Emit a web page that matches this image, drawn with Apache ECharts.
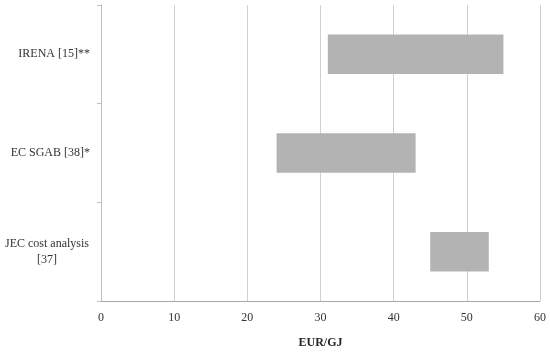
<!DOCTYPE html>
<html>
<head>
<meta charset="utf-8">
<script src="https://cdn.jsdelivr.net/npm/echarts@6/dist/echarts.min.js"></script>
<style>
  html, body { margin: 0; padding: 0; background: #fff; }
  #chart { width: 550px; height: 353px; }
</style>
</head>
<body>
<div id="chart"></div>
<script>
// top to bottom
const categories = ["IRENA [15]**", "EC SGAB [38]*", "JEC cost analysis\n[37]"];
const lowValues = [31, 24, 45];
const highValues = [55, 43, 53];
const xTicks = [0, 10, 20, 30, 40, 50, 60];

const font = "'Liberation Serif', 'DejaVu Serif', serif";

let chart = echarts.init(document.getElementById("chart"));

let rangeValues = [];
highValues.forEach((h, i) => {
    rangeValues.push(h - lowValues[i]);
});

let option = {
    animation: false,
    textStyle: { fontFamily: font },
    grid: {
        left: 101,
        right: 10,
        top: 5,
        bottom: 52,
        outerBoundsMode: "none"
    },
    xAxis: {
        type: "value",
        min: xTicks[0],
        max: xTicks[xTicks.length - 1],
        interval: 10,
        name: "EUR/GJ",
        nameLocation: "middle",
        nameGap: 36,
        nameTextStyle: {
            fontFamily: font,
            fontWeight: "bold",
            fontSize: 12,
            color: "#262626"
        },
        axisLine: {
            show: true,
            lineStyle: { color: "#a6a6a6", width: 1 }
        },
        axisTick: { show: false },
        axisLabel: {
            color: "#333",
            fontSize: 12,
            fontFamily: font,
            margin: 11
        },
        splitLine: {
            show: true,
            lineStyle: { color: "#d0d0d0", width: 1 }
        }
    },
    yAxis: {
        type: "category",
        inverse: true,
        data: categories,
        axisLine: {
            show: true,
            lineStyle: { color: "#bfbfbf", width: 1 }
        },
        axisTick: {
            show: true,
            length: 4,
            lineStyle: { color: "#bfbfbf" }
        },
        axisLabel: {
            color: "#333",
            fontSize: 12,
            fontFamily: font,
            margin: 11,
            lineHeight: 16,
            align: "right",
            formatter: (v) => {
                if (v.indexOf("\n") < 0) return v;
                return v.split("\n").map((s) => "{c|" + s + "}").join("\n");
            },
            rich: {
                c: {
                    width: 86,
                    align: "center",
                    fontSize: 12,
                    lineHeight: 16,
                    color: "#333",
                    fontFamily: font
                }
            }
        },
        splitLine: { show: false }
    },
    series: [
        {
            name: "base",
            type: "bar",
            stack: "range",
            data: lowValues,
            barWidth: "40%",
            itemStyle: { color: "transparent" },
            silent: true
        },
        {
            name: "range",
            type: "bar",
            stack: "range",
            data: rangeValues,
            barWidth: "40%",
            itemStyle: { color: "#b3b3b3" }
        }
    ]
};

chart.setOption(option);
</script>
</body>
</html>
